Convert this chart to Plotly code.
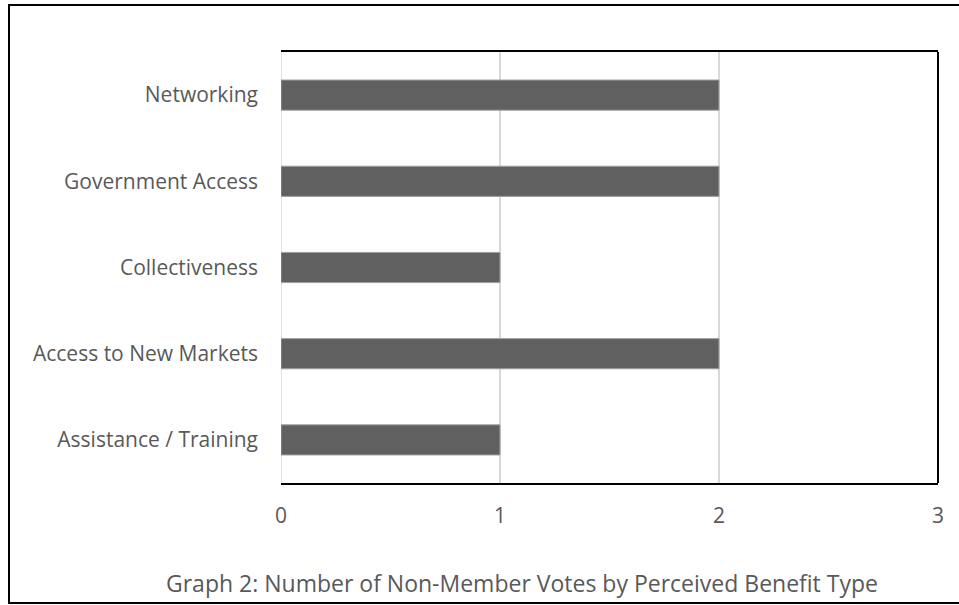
import plotly.graph_objects as go

categories = ["Assistance / Training", "Access to New Markets", "Collectiveness", "Government Access", "Networking"]
votes = [1, 2, 1, 2, 2]
tick_vals = [0, 1, 2, 3]
title_text = "Graph 2: Number of Non-Member Votes by Perceived Benefit Type"

FONT = "Open Sans"
GREY = "#595959"

fig = go.Figure()
fig.add_trace(go.Bar(
    x=votes, y=categories, orientation="h",
    marker=dict(color="#606060", line=dict(color="#a0a0a0", width=1)),
    showlegend=False,
))

W, H = 959, 605
L, R, T, B = 281, 21, 52, 122
pw, ph = W - L - R, H - T - B

def px_x(p):
    return (p - L) / pw

def px_y(p):
    return (H - B - p) / ph

fig.update_layout(
    width=W, height=H,
    margin=dict(l=L, r=R, t=T, b=B, pad=0),
    paper_bgcolor="white", plot_bgcolor="white",
    bargap=0.65,
    font=dict(family=FONT, color=GREY, size=21),
    xaxis=dict(
        range=[0, 3], tickvals=tick_vals, ticktext=[str(v) for v in tick_vals],
        showgrid=True, gridcolor="#d9d9d9", gridwidth=1.5,
        zeroline=False, showline=True, mirror=True, linecolor="black", linewidth=2,
        ticks="", ticklabelstandoff=13,
        tickfont=dict(family=FONT, size=21, color=GREY),
    ),
    yaxis=dict(
        categoryorder="array", categoryarray=categories,
        showgrid=False, zeroline=False, showline=False,
        ticks="", ticklabelstandoff=22,
        tickfont=dict(family=FONT, size=21, color=GREY),
    ),
    shapes=[
        dict(type="line", xref="paper", yref="paper", x0=1, x1=1, y0=0, y1=1,
             line=dict(color="black", width=2)),
        dict(type="line", xref="x", yref="paper", x0=0, x1=0, y0=0, y1=1,
             line=dict(color="#d9d9d9", width=1.5), layer="below"),
        dict(type="rect", xref="paper", yref="paper",
             x0=px_x(9), x1=px_x(975), y0=px_y(603), y1=px_y(5),
             line=dict(color="black", width=2), fillcolor="rgba(0,0,0,0)"),
    ],
    annotations=[
        dict(text=title_text, xref="paper", yref="paper",
             x=px_x(522), y=px_y(583), xanchor="center", yanchor="middle",
             showarrow=False, font=dict(family=FONT, size=23, color=GREY)),
    ],
)

fig.write_html("out.html")
